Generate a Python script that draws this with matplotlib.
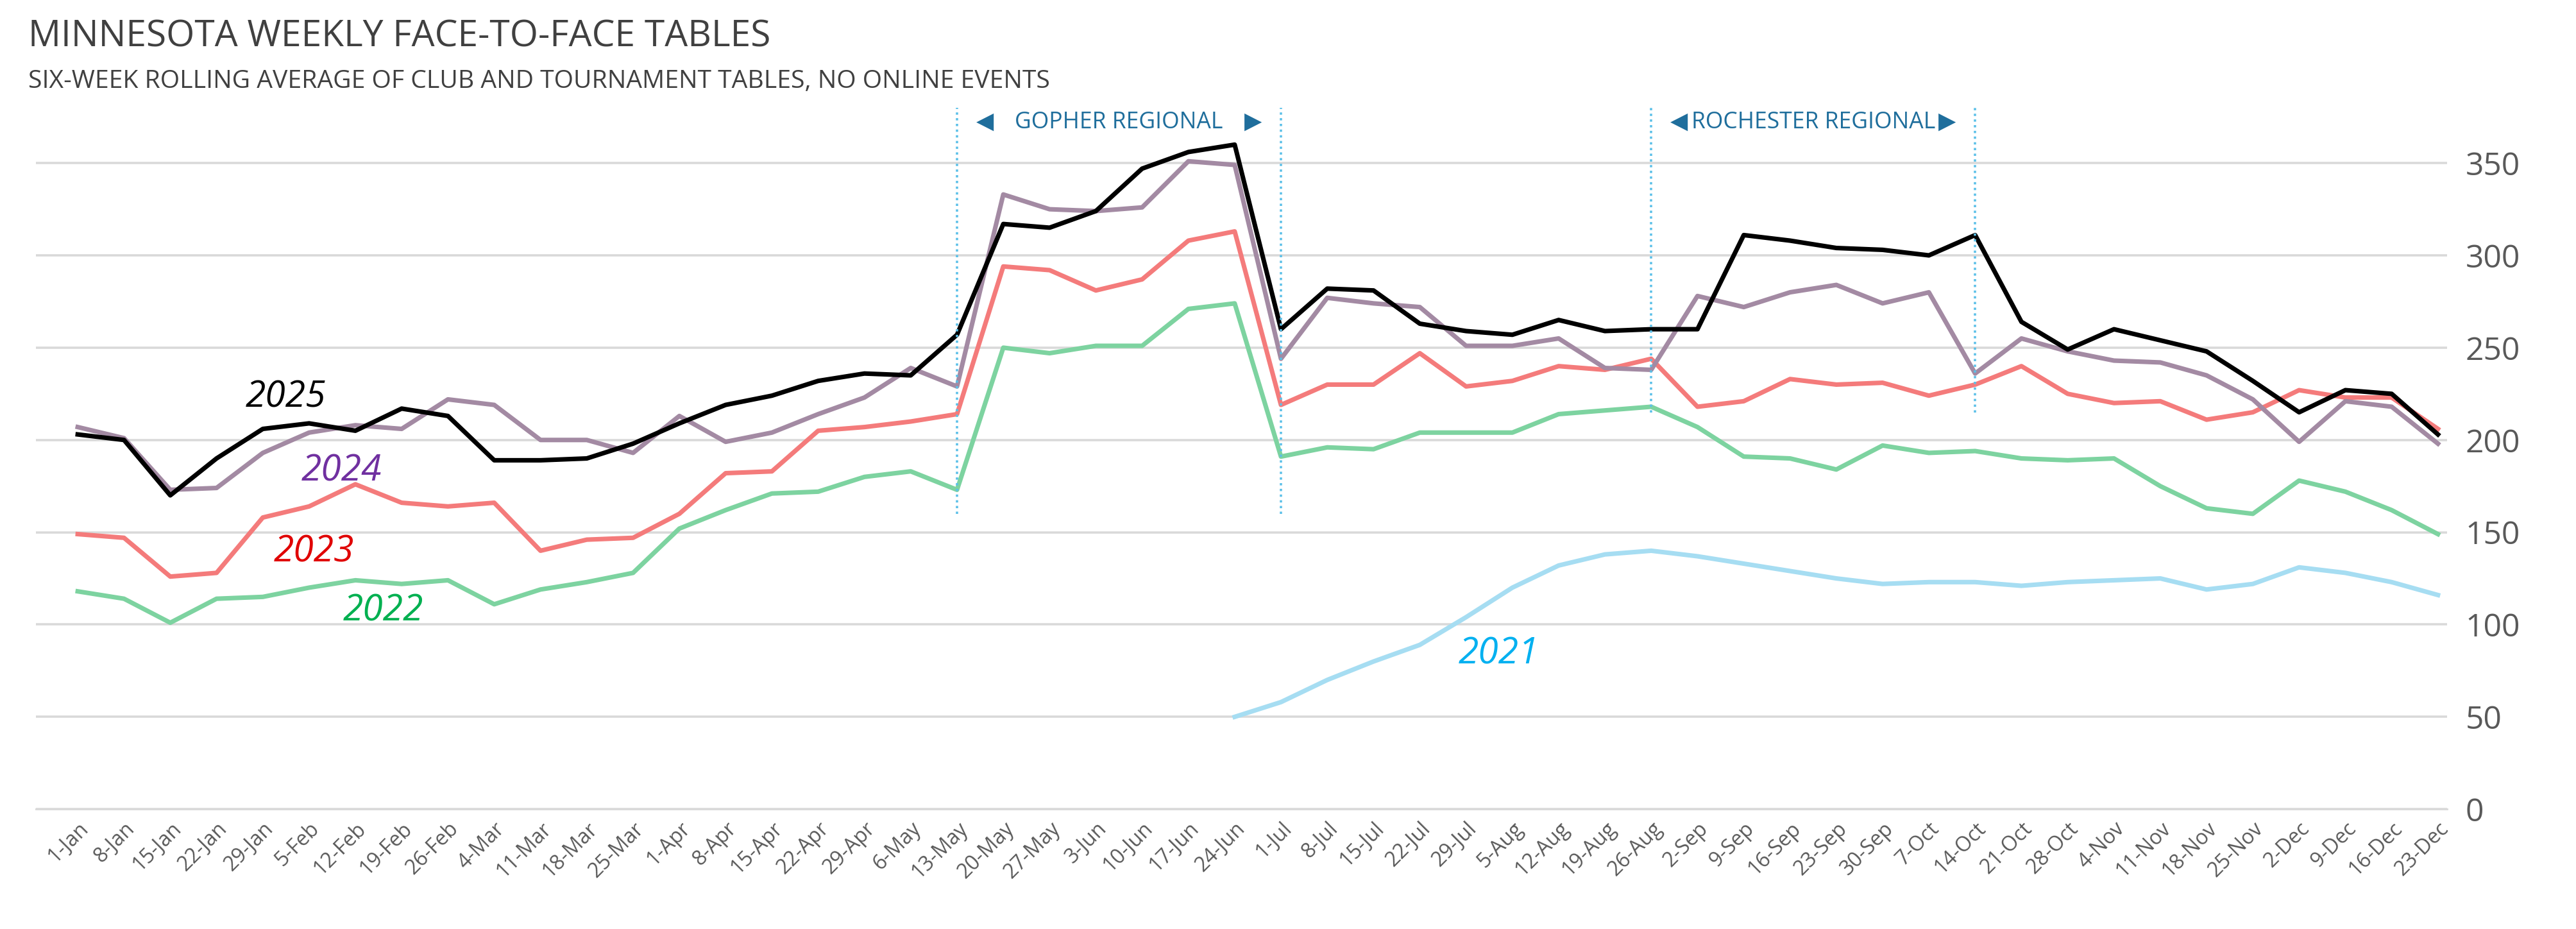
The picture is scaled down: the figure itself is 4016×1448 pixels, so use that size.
import matplotlib
matplotlib.use("Agg")
import matplotlib.pyplot as plt
import numpy as np

weeks = ["1-Jan","8-Jan","15-Jan","22-Jan","29-Jan","5-Feb","12-Feb","19-Feb","26-Feb","4-Mar","11-Mar","18-Mar","25-Mar",
         "1-Apr","8-Apr","15-Apr","22-Apr","29-Apr","6-May","13-May","20-May","27-May","3-Jun","10-Jun","17-Jun","24-Jun",
         "1-Jul","8-Jul","15-Jul","22-Jul","29-Jul","5-Aug","12-Aug","19-Aug","26-Aug","2-Sep","9-Sep","16-Sep","23-Sep",
         "30-Sep","7-Oct","14-Oct","21-Oct","28-Oct","4-Nov","11-Nov","18-Nov","25-Nov","2-Dec","9-Dec","16-Dec","23-Dec"]
y2025 = [203,200,170,190,206,209,205,217,213,189,189,190,198,209,219,224,232,236,235,257,317,315,324,347,356,360,
         260,282,281,263,259,257,265,259,260,260,311,308,304,303,300,311,264,249,260,254,248,232,215,227,225,203]
y2024 = [207,201,173,174,193,204,208,206,222,219,200,200,193,213,199,204,214,223,239,229,333,325,324,326,351,349,
         244,277,274,272,251,251,255,239,238,278,272,280,284,274,280,236,255,248,243,242,235,222,199,221,218,198]
y2023 = [149,147,126,128,158,164,176,166,164,166,140,146,147,160,182,183,205,207,210,214,294,292,281,287,308,313,
         219,230,230,247,229,232,240,238,244,218,221,233,230,231,224,230,240,225,220,221,211,215,227,223,223,206]
y2022 = [118,114,101,114,115,120,124,122,124,111,119,123,128,152,162,171,172,180,183,173,250,247,251,251,271,274,
         191,196,195,204,204,204,214,216,218,207,191,190,184,197,193,194,190,189,190,175,163,160,178,172,162,149]
y2021_start = 25
y2021 = [50,58,70,80,89,104,120,132,138,140,137,133,129,125,122,123,123,121,123,124,125,119,122,131,128,123,116]
yticks = [0,50,100,150,200,250,300,350]

plt.rcParams['font.family'] = ['Open Sans', 'DejaVu Sans']
fig = plt.figure(figsize=(15.6875, 5.65625), dpi=256)
ax = fig.add_axes([0.014, 0.129, 0.936, 0.765])
x = np.arange(len(weeks))
ax.plot(x, y2022, color='#7DD3A0', lw=2)
ax.plot(np.arange(y2021_start, y2021_start+len(y2021)), y2021, color='#A6DDF2', lw=2)
ax.plot(x, y2023, color='#F47B7B', lw=2)
ax.plot(x, y2024, color='#A38AA3', lw=2)
ax.plot(x, y2025, color='black', lw=2)

ax.set_xlim(-0.9, 51.2)
ax.set_ylim(0, 385)
ax.set_yticks(yticks)
ax.yaxis.tick_right()
ax.tick_params(axis='y', length=0, labelsize=14, labelcolor='#595959', pad=8)
ax.set_xticks(x)
ax.set_xticklabels(weeks, rotation=45, ha='right', rotation_mode='anchor', fontsize=9, color='#595959')
ax.tick_params(axis='x', length=0, pad=4)
ax.grid(axis='y', color='#D9D9D9', lw=1)
for s in ['top','right','left']:
    ax.spines[s].set_visible(False)
ax.spines['bottom'].set_color('#D9D9D9')

for xi, ymin in [(19,160),(26,160),(34,215),(41,215)]:
    ax.plot([xi, xi], [ymin, 380], color='#5BC0E8', lw=1, ls=(0,(1,1.5)))
ax.text(22.5, 372, "GOPHER REGIONAL", ha='center', va='center', fontsize=10, color='#1F6E9C')
ax.text(19.6, 372, "◀", ha='center', va='center', fontsize=10, color='#1F6E9C')
ax.text(25.4, 372, "▶", ha='center', va='center', fontsize=10, color='#1F6E9C')
ax.text(37.5, 372, "ROCHESTER REGIONAL", ha='center', va='center', fontsize=10, color='#1F6E9C')
ax.text(34.6, 372, "◀", ha='center', va='center', fontsize=10, color='#1F6E9C')
ax.text(40.4, 372, "▶", ha='center', va='center', fontsize=10, color='#1F6E9C')

for t, xx, yy, c in [("2025",4.5,223,'black'),("2024",5.7,183,'#7030A0'),("2023",5.1,139,'#E00000'),
                     ("2022",6.6,107,'#00B050'),("2021",30.7,84,'#00B0F0')]:
    ax.text(xx, yy, t, ha='center', va='center', fontsize=16, style='italic', color=c)

fig.text(0.011, 0.96, "MINNESOTA WEEKLY FACE-TO-FACE TABLES", fontsize=16, color='#404040', va='center')
fig.text(0.011, 0.912, "SIX-WEEK ROLLING AVERAGE OF CLUB AND TOURNAMENT TABLES, NO ONLINE EVENTS", fontsize=11, color='#404040', va='center')
fig.savefig("out.png", dpi=256)
